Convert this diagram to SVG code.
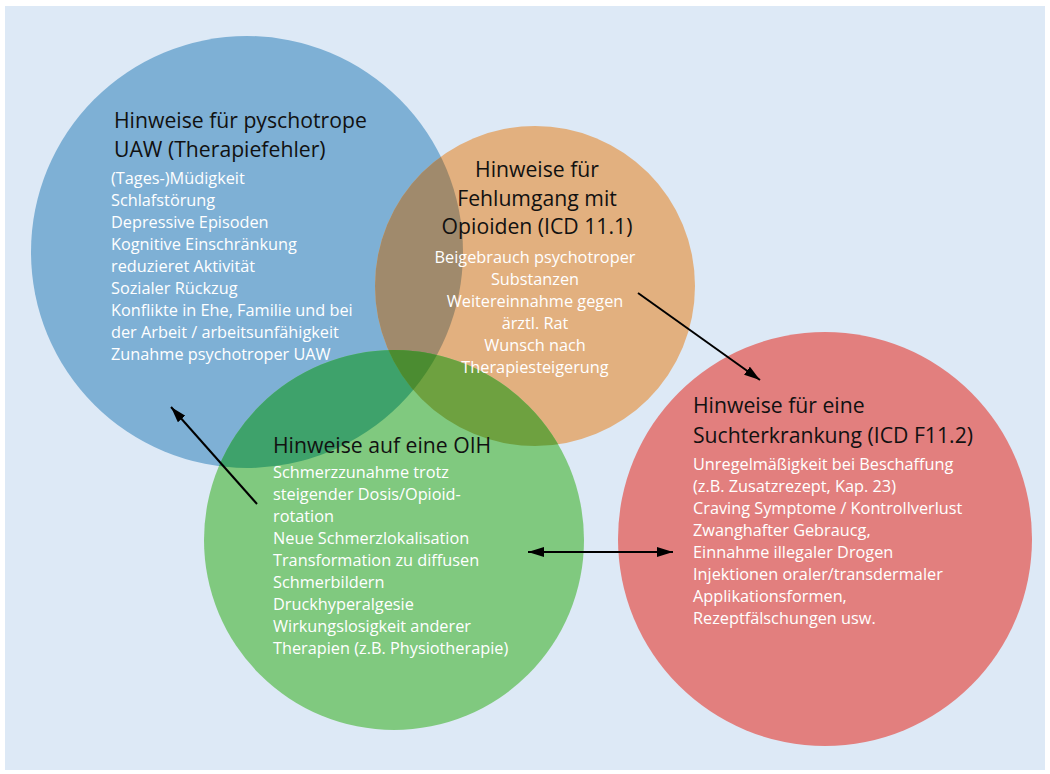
<svg xmlns="http://www.w3.org/2000/svg" width="1050" height="774" viewBox="0 0 1050 774">
<style>
.t{font-family:"Open Sans","Noto Sans",sans-serif;font-size:21.2px;fill:#111}
.b{font-family:"Open Sans","Noto Sans",sans-serif;font-size:16.3px;fill:#fff}
.c{text-anchor:middle}
.ln{stroke:#000;stroke-width:2;fill:none}
</style>
<defs>
<clipPath id="cBlue"><circle cx="247" cy="252" r="216"/></clipPath>
<clipPath id="cOrange"><circle cx="535" cy="286" r="160"/></clipPath>
<clipPath id="cGreen"><circle cx="394" cy="540" r="190"/></clipPath>
<marker id="ah" viewBox="0 0 16 10" refX="16" refY="5" markerWidth="16" markerHeight="10" markerUnits="userSpaceOnUse" orient="auto-start-reverse"><path d="M0,0 L16,5 L0,10 Z" fill="#000"/></marker>
</defs>
<rect x="5" y="6" width="1040" height="764" fill="#dde9f6"/>
<g id="node-blue"><circle cx="247" cy="252" r="216" fill="#7eb0d5"/></g>
<g id="node-orange"><circle cx="535" cy="286" r="160" fill="#e2b07f"/></g>
<g id="node-green"><circle cx="394" cy="540" r="190" fill="#80c97f"/></g>
<g id="node-red"><circle cx="825" cy="539" r="207" fill="#e27f7e"/></g>
<g id="overlaps">
<circle cx="535" cy="286" r="160" fill="#a08a6c" clip-path="url(#cBlue)"/>
<circle cx="394" cy="540" r="190" fill="#3ea26b" clip-path="url(#cBlue)"/>
<circle cx="394" cy="540" r="190" fill="#6ea140" clip-path="url(#cOrange)"/>
<g clip-path="url(#cOrange)"><circle cx="394" cy="540" r="190" fill="#4b8c31" clip-path="url(#cBlue)"/></g>
</g>
<g id="text-blue">
<text class="t" x="114" y="128">Hinweise für pyschotrope</text>
<text class="t" x="114" y="157">UAW (Therapiefehler)</text>
<text class="b" x="111" y="184">(Tages-)Müdigkeit</text>
<text class="b" x="111" y="206">Schlafstörung</text>
<text class="b" x="111" y="228">Depressive Episoden</text>
<text class="b" x="111" y="250">Kognitive Einschränkung</text>
<text class="b" x="111" y="272">reduzieret Aktivität</text>
<text class="b" x="111" y="294">Sozialer Rückzug</text>
<text class="b" x="111" y="316">Konflikte in Ehe, Familie und bei</text>
<text class="b" x="111" y="338">der Arbeit / arbeitsunfähigkeit</text>
<text class="b" x="111" y="360">Zunahme psychotroper UAW</text>
</g>
<g id="text-orange">
<text class="t c" x="537" y="177">Hinweise für</text>
<text class="t c" x="537" y="206">Fehlumgang mit</text>
<text class="t c" x="537" y="234">Opioiden (ICD 11.1)</text>
<text class="b c" x="535" y="263">Beigebrauch psychotroper</text>
<text class="b c" x="535" y="285">Substanzen</text>
<text class="b c" x="535" y="307">Weitereinnahme gegen</text>
<text class="b c" x="535" y="329">ärztl. Rat</text>
<text class="b c" x="535" y="351">Wunsch nach</text>
<text class="b c" x="535" y="373">Therapiesteigerung</text>
</g>
<g id="text-green">
<text class="t" x="273" y="453">Hinweise auf eine OIH</text>
<text class="b" x="273" y="478">Schmerzzunahme trotz</text>
<text class="b" x="273" y="500">steigender Dosis/Opioid-</text>
<text class="b" x="273" y="522">rotation</text>
<text class="b" x="273" y="544">Neue Schmerzlokalisation</text>
<text class="b" x="273" y="566">Transformation zu diffusen</text>
<text class="b" x="273" y="588">Schmerbildern</text>
<text class="b" x="273" y="610">Druckhyperalgesie</text>
<text class="b" x="273" y="632">Wirkungslosigkeit anderer</text>
<text class="b" x="273" y="654">Therapien (z.B. Physiotherapie)</text>
</g>
<g id="text-red">
<text class="t" x="693" y="413">Hinweise für eine</text>
<text class="t" x="693" y="443">Suchterkrankung (ICD F11.2)</text>
<text class="b" x="693" y="470">Unregelmäßigkeit bei Beschaffung</text>
<text class="b" x="693" y="492">(z.B. Zusatzrezept, Kap. 23)</text>
<text class="b" x="693" y="514">Craving Symptome / Kontrollverlust</text>
<text class="b" x="693" y="536">Zwanghafter Gebraucg,</text>
<text class="b" x="693" y="558">Einnahme illegaler Drogen</text>
<text class="b" x="693" y="580">Injektionen oraler/transdermaler</text>
<text class="b" x="693" y="602">Applikationsformen,</text>
<text class="b" x="693" y="624">Rezeptfälschungen usw.</text>
</g>
<g id="connectors">
<line class="ln" x1="638" y1="293" x2="760" y2="380" marker-end="url(#ah)"/>
<line class="ln" x1="257" y1="504" x2="171" y2="407" marker-end="url(#ah)"/>
<line class="ln" x1="528" y1="552" x2="673" y2="552" marker-start="url(#ah)" marker-end="url(#ah)"/>
</g>
</svg>
